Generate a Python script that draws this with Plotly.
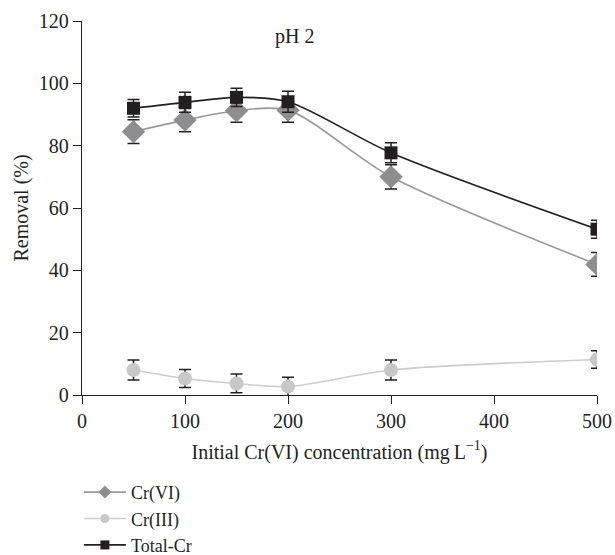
import plotly.graph_objects as go

x_conc = [50, 100, 150, 200, 300, 500]
total_cr = [92.0, 93.9, 95.5, 94.1, 77.7, 53.2]
total_err = [2.8, 3.2, 2.9, 3.4, 3.2, 2.9]
cr6 = [84.5, 88.2, 91.2, 91.4, 70.0, 41.9]
cr6_err = [3.8, 3.7, 3.7, 3.9, 3.9, 3.8]
cr3 = [8.0, 5.3, 3.7, 2.7, 8.0, 11.4]
cr3_err = [3.2, 2.9, 3.0, 3.0, 3.2, 2.8]
x_ticks = [0, 100, 200, 300, 400, 500]
y_ticks = [0, 20, 40, 60, 80, 100, 120]

FONT = "Liberation Serif"
AX = "#231f20"

fig = go.Figure()

series = [
    ("Cr(VI)", cr6, cr6_err, "#8e8e90", "#9a9a9a", "diamond", 18, 10),
    ("Cr(III)", cr3, cr3_err, "#c8c8c8", "#cdcdcd", "circle", 14, 9),
    ("Total-Cr", total_cr, total_err, "#231f20", "#231f20", "square", 13, 9),
]

for name, y, err, color, lcolor, symbol, size, lsize in series:
    fig.add_trace(go.Scatter(
        x=x_conc, y=y, name=name, mode="lines+markers", showlegend=False,
        legendgroup=name,
        line=dict(color=lcolor, width=1.6, shape="spline", smoothing=0.8),
        marker=dict(symbol=symbol, size=size, color=color, line=dict(width=0)),
        error_y=dict(type="data", array=err, visible=True, color=AX, thickness=1.5, width=6),
    ))

# legend entries (no visible marks in the plot)
for name, y, err, color, lcolor, symbol, size, lsize in series:
    fig.add_trace(go.Scatter(
        x=[None], y=[None], name=name, mode="lines+markers", showlegend=True,
        legendgroup=name,
        line=dict(color=lcolor, width=1.6),
        marker=dict(symbol=symbol, size=lsize, color=color, line=dict(width=0)),
    ))

fig.add_annotation(x=206, y=115, xref="x", yref="y", text="pH 2", showarrow=False,
                   font=dict(family=FONT, size=20, color=AX))

fig.update_layout(
    width=615, height=555, autosize=False,
    margin=dict(l=82, r=18, t=21, b=160, autoexpand=False),
    paper_bgcolor="white", plot_bgcolor="white",
    font=dict(family=FONT, size=20, color=AX),
    showlegend=True,
    legend=dict(x=-0.006, xanchor="left", y=-0.211, yanchor="top",
                font=dict(family=FONT, size=18, color=AX),
                itemwidth=42, tracegroupgap=0, bgcolor="rgba(0,0,0,0)"),
    xaxis=dict(range=[0, 500], tickvals=x_ticks, showgrid=False, zeroline=False,
               showline=True, linecolor=AX, linewidth=1.4, ticks="outside",
               ticklen=8, tickcolor=AX, tickwidth=1.4,
               tickfont=dict(family=FONT, size=20, color=AX),
               title=dict(text="Initial Cr(VI) concentration (mg\u2009L<sup>\u22121</sup>)",
                          font=dict(family=FONT, size=20, color=AX), standoff=13)),
    yaxis=dict(range=[0, 120], tickvals=y_ticks, showgrid=False, zeroline=False,
               showline=True, linecolor=AX, linewidth=1.4, ticks="outside",
               ticklen=8, tickcolor=AX, tickwidth=1.4,
               tickfont=dict(family=FONT, size=20, color=AX),
               title=dict(text="Removal (%)", font=dict(family=FONT, size=20, color=AX), standoff=4)),
)

fig.write_html("out.html")
